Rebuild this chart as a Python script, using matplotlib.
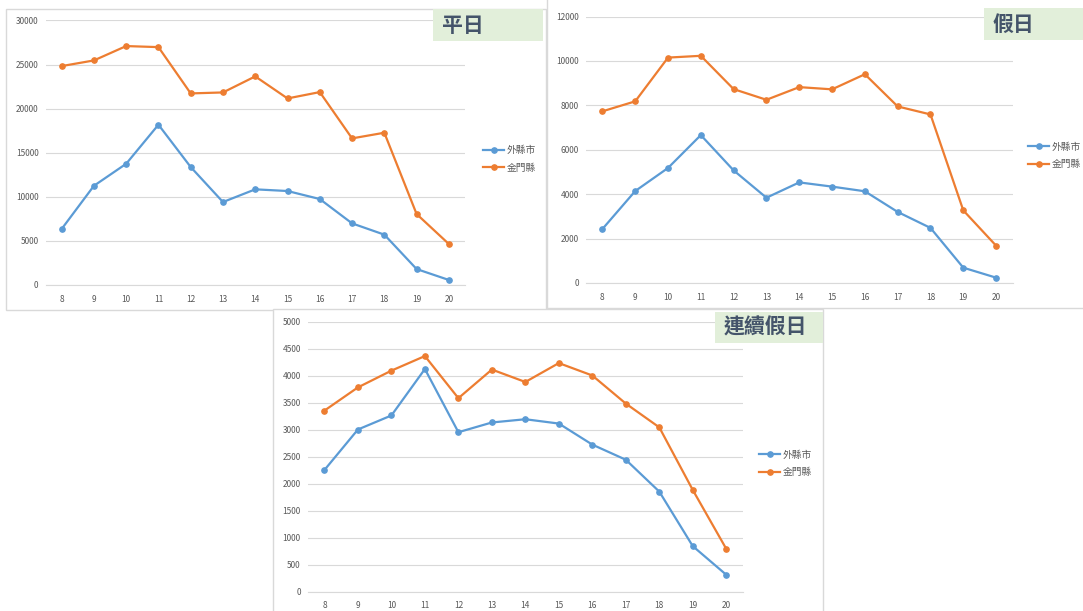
import matplotlib
matplotlib.use("Agg")
import matplotlib.pyplot as plt
from matplotlib.patches import Rectangle

plt.rcParams['font.family'] = ['Noto Sans CJK TC', 'DejaVu Sans']

# 時段 (x 軸)
horas = [8, 9, 10, 11, 12, 13, 14, 15, 16, 17, 18, 19, 20]
series_nombres = ['外縣市', '金門縣']

# 平日
pingri_waixian = [6350, 11250, 13750, 18180, 13380, 9410, 10850, 10660, 9750, 6990, 5710, 1810, 570]
pingri_jinmen = [24830, 25470, 27100, 26980, 21730, 21840, 23660, 21160, 21880, 16630, 17270, 8050, 4650]

# 假日
jiari_waixian = [2430, 4140, 5180, 6660, 5070, 3840, 4530, 4340, 4130, 3200, 2480, 690, 240]
jiari_jinmen = [7730, 8180, 10150, 10230, 8730, 8250, 8820, 8720, 9400, 7950, 7590, 3270, 1680]

# 連續假日
lianxu_waixian = [2250, 3000, 3260, 4120, 2950, 3130, 3190, 3110, 2720, 2440, 1850, 840, 310]
lianxu_jinmen = [3350, 3780, 4090, 4360, 3580, 4110, 3880, 4230, 4000, 3480, 3040, 1880, 790]

yticks_pingri = [0, 5000, 10000, 15000, 20000, 25000, 30000]
yticks_jiari = [0, 2000, 4000, 6000, 8000, 10000, 12000]
yticks_lianxu = [0, 500, 1000, 1500, 2000, 2500, 3000, 3500, 4000, 4500, 5000]

AZUL = '#5B9BD5'
NARANJA = '#ED7D31'
GRIS_TXT = '#595959'
GRIS_LIN = '#D9D9D9'

W, H = 1083, 611
fig = plt.figure(figsize=(W / 100, H / 100), dpi=100)


def caja(x0, y0, x1, y1):
    """pixeles (origen arriba-izquierda) -> fraccion de figura"""
    return [x0 / W, 1 - y1 / H, (x1 - x0) / W, (y1 - y0) / H]


def marco(x0, y0, x1, y1):
    r = Rectangle((x0 / W, 1 - y1 / H), (x1 - x0) / W, (y1 - y0) / H,
                  transform=fig.transFigure, facecolor='white',
                  edgecolor=GRIS_LIN, linewidth=1, zorder=-1)
    fig.patches.append(r)


def titulo(texto, x0, y0, x1, y1):
    r = Rectangle((x0 / W, 1 - y1 / H), (x1 - x0) / W, (y1 - y0) / H,
                  transform=fig.transFigure, facecolor='#E2EFDA',
                  edgecolor='none', zorder=2)
    fig.patches.append(r)
    fig.text((x0 + 9) / W, 1 - (y0 + y1) / 2 / H, texto, fontsize=15,
             fontweight='bold', color='#44546A', ha='left', va='center',
             zorder=3)


def panel(pos, y1, y2, yticks, ley_xy):
    ax = fig.add_axes(caja(*pos))
    ax.set_facecolor('none')
    ax.plot(horas, y1, '-o', color=AZUL, lw=1.6, ms=3.8, label=series_nombres[0])
    ax.plot(horas, y2, '-o', color=NARANJA, lw=1.6, ms=3.8, label=series_nombres[1])
    ax.set_xlim(7.5, 20.5)
    ax.set_ylim(yticks[0], yticks[-1])
    ax.set_xticks(horas)
    ax.set_yticks(yticks)
    ax.grid(True, axis='y', color=GRIS_LIN, lw=0.8)
    ax.set_axisbelow(True)
    for s in ['top', 'right', 'left']:
        ax.spines[s].set_visible(False)
    ax.spines['bottom'].set_color(GRIS_LIN)
    ax.tick_params(axis='both', length=0, labelsize=6, colors=GRIS_TXT)
    ax.tick_params(axis='x', pad=7)
    ax.tick_params(axis='y', pad=5)
    ax.legend(loc='center left', bbox_to_anchor=(ley_xy[0] / W, 1 - ley_xy[1] / H),
              bbox_transform=fig.transFigure, frameon=False, fontsize=7,
              handlelength=2.2, handletextpad=0.2, labelspacing=0.75,
              borderpad=0, borderaxespad=0, labelcolor=GRIS_TXT)
    return ax


# marcos de cada grafico
marco(6, 9, 546, 310)
marco(547, -2, 1090, 308)
marco(273, 309, 823, 620)

panel((45.5, 20.5, 465, 285), pingri_waixian, pingri_jinmen, yticks_pingri, (483, 159))
panel((586, 16.5, 1012.5, 283), jiari_waixian, jiari_jinmen, yticks_jiari, (1028, 155.5))
panel((307.7, 321.5, 743, 591.5), lianxu_waixian, lianxu_jinmen, yticks_lianxu, (759, 463.5))

titulo('平日', 433, 9, 543, 41)
titulo('假日', 984, 8, 1083, 40)
titulo('連續假日', 715, 312, 823, 343)

fig.savefig('out.png', dpi=100)
